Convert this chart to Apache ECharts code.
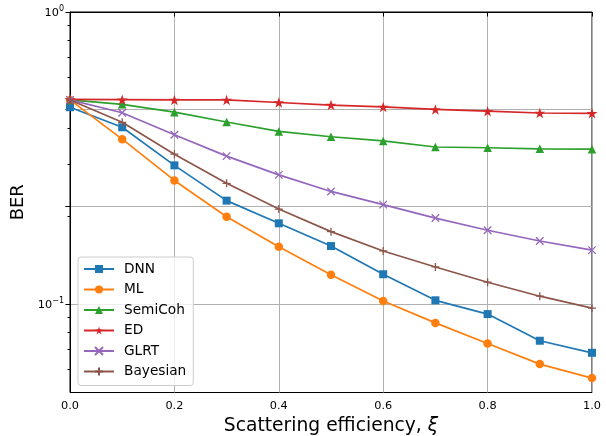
<!DOCTYPE html>
<html><head><meta charset="utf-8">
<script src="https://cdn.jsdelivr.net/npm/echarts@6/dist/echarts.min.js"></script>
<style>html,body{margin:0;padding:0;background:#fff}#c{width:606px;height:436px}</style>
</head><body><div id="c"></div>
<script>
// ---- data ----
const xi = [0.0, 0.1, 0.2, 0.3, 0.4, 0.5, 0.6, 0.7, 0.8, 0.9, 1.0];
const berDNN      = [0.472, 0.403, 0.2985, 0.226, 0.189, 0.158, 0.1265, 0.103, 0.0924, 0.0749, 0.0681];
const berML       = [0.500, 0.367, 0.265, 0.199, 0.157, 0.126, 0.1025, 0.0862, 0.0733, 0.0623, 0.0558];
const berSemiCoh  = [0.500, 0.483, 0.454, 0.420, 0.390, 0.374, 0.362, 0.345, 0.343, 0.340, 0.339];
const berED       = [0.502, 0.501, 0.500, 0.500, 0.490, 0.480, 0.473, 0.464, 0.4575, 0.451, 0.450];
const berGLRT     = [0.500, 0.452, 0.380, 0.321, 0.277, 0.243, 0.219, 0.197, 0.179, 0.1644, 0.153];
const berBayesian = [0.500, 0.419, 0.326, 0.259, 0.2115, 0.177, 0.152, 0.134, 0.1188, 0.1064, 0.0968];
const seriesNames = ['DNN', 'ML', 'SemiCoh', 'ED', 'GLRT', 'Bayesian'];
const xTickValues = [0, 0.2, 0.4, 0.6, 0.8, 1.0];
const yMin = 0.0498, yMax = 1;
const yMajorTicks = [1, Math.pow(10, -1 / 3), Math.pow(10, -2 / 3), 0.1];
const yMinorTicks = [0.9, 0.8, 0.7, 0.6, 0.4, 0.3, 0.2, 0.09, 0.08, 0.07, 0.06];
const yLabelTicks = [1, 0.1];
const yLabelText = ['0', '\u22121'];

// ---- styles ----
const FONT = 'DejaVu Sans';
const colors = ['#1f77b4', '#ff7f0e', '#2ca02c', '#d62728', '#9467bd', '#8c564b'];
const starPath = 'path://M50,0L61.23,34.55L97.55,34.55L68.17,55.9L79.39,90.45L50,69.1L20.61,90.45L31.83,55.9L2.45,34.55L38.77,34.55Z';
const crossPath = 'path://M0,0L10,10M10,0L0,10';
const plusPath = 'path://M5,0L5,10M0,5L10,5';
const symbols = ['rect', 'circle', 'triangle', starPath, crossPath, plusPath];
const symbolSizes = [8, 8.5, 8.5, 11, 7.5, 8];
const allData = [berDNN, berML, berSemiCoh, berED, berGLRT, berBayesian];
const L = Math.log10;

const series = seriesNames.map((name, i) => {
  const strokeOnly = i >= 4;
  return {
    name, type: 'line', yAxisIndex: 0, xAxisIndex: 0,
    data: xi.map((x, k) => [x, allData[i][k]]),
    symbol: symbols[i], symbolSize: symbolSizes[i], symbolKeepAspect: true,
    showAllSymbol: true,
    lineStyle: {color: colors[i], width: 1.7},
    itemStyle: strokeOnly ? {color: colors[i], borderColor: colors[i], borderWidth: 1.3}
                          : {color: colors[i], borderWidth: 0},
    emphasis: {disabled: true},
    z: 3 + i
  };
});

const chart = echarts.init(document.getElementById('c'), null, {renderer: 'canvas'});
chart.setOption({
  animation: false,
  backgroundColor: '#fff',
  textStyle: {fontFamily: FONT},
  grid: {left: 70, right: 14, top: 12, bottom: 43.5, containLabel: false, outerBoundsMode: 'none',
    show: true, borderColor: '#000', borderWidth: 1, backgroundColor: 'transparent'},
  legend: {
    orient: 'vertical', left: 78, top: 257,
    data: seriesNames,
    itemWidth: 30, itemHeight: 10, itemGap: 4.5,
    padding: [4, 7, 6, 5],
    backgroundColor: 'rgba(255,255,255,0.8)',
    borderColor: '#cccccc', borderWidth: 1, borderRadius: 3,
    textStyle: {fontFamily: FONT, fontSize: 13.7, color: '#000', lineHeight: 16, padding: [0, 0, 0, 5]},
    selectedMode: false
  },
  xAxis: [{
    type: 'value', min: 0, max: 1, interval: 0.2,
    axisLine: {show: true, lineStyle: {color: '#000', width: 1}},
    axisTick: {show: true, length: 4.5, lineStyle: {color: '#000', width: 1}, customValues: xTickValues},
    axisLabel: {margin: 8, fontSize: 11.3, color: '#000', fontFamily: FONT,
      customValues: xTickValues, formatter: v => v.toFixed(1)},
    splitLine: {show: true, lineStyle: {color: '#b0b0b0', width: 1}},
    name: 'Scattering efficiency, {i|\u03be}', nameLocation: 'middle', nameGap: 23,
    nameTextStyle: {fontSize: 18.7, color: '#000', fontFamily: FONT,
      rich: {i: {fontSize: 18.7, fontStyle: 'italic', fontFamily: FONT, color: '#000'}}}
  }],
  yAxis: [{
    type: 'log', logBase: 10, min: yMin, max: yMax, position: 'left', show: false,
    splitLine: {show: false}
  }, {
    type: 'value', min: L(yMin), max: L(yMax), position: 'left',
    axisLine: {show: true, lineStyle: {color: '#000', width: 1}},
    axisTick: {show: true, length: 2.5, lineStyle: {color: '#000', width: 1}, customValues: yMinorTicks.map(L)},
    axisLabel: {show: true, margin: 6, customValues: yLabelTicks.map(L),
      formatter: v => '{b|10}{s|' + (Math.abs(v) < 1e-9 ? yLabelText[0] : yLabelText[1]) + '}',
      rich: {
        b: {fontSize: 11.3, fontFamily: FONT, color: '#000', lineHeight: 14, verticalAlign: 'bottom'},
        s: {fontSize: 8, fontFamily: FONT, color: '#000', lineHeight: 14, verticalAlign: 'top'}
      }},
    splitLine: {show: false},
    name: 'BER', nameLocation: 'middle', nameGap: 43, nameRotate: 90,
    nameTextStyle: {fontSize: 18, color: '#000', fontFamily: FONT}
  }, {
    type: 'value', min: L(yMin), max: L(yMax), position: 'left',
    axisLine: {show: false},
    axisTick: {show: true, length: 4.5, lineStyle: {color: '#000', width: 1}, customValues: yMajorTicks.map(L)},
    axisLabel: {show: false},
    splitLine: {show: true, lineStyle: {color: '#b0b0b0', width: 1}}
  }],
  series
});
</script></body></html>
